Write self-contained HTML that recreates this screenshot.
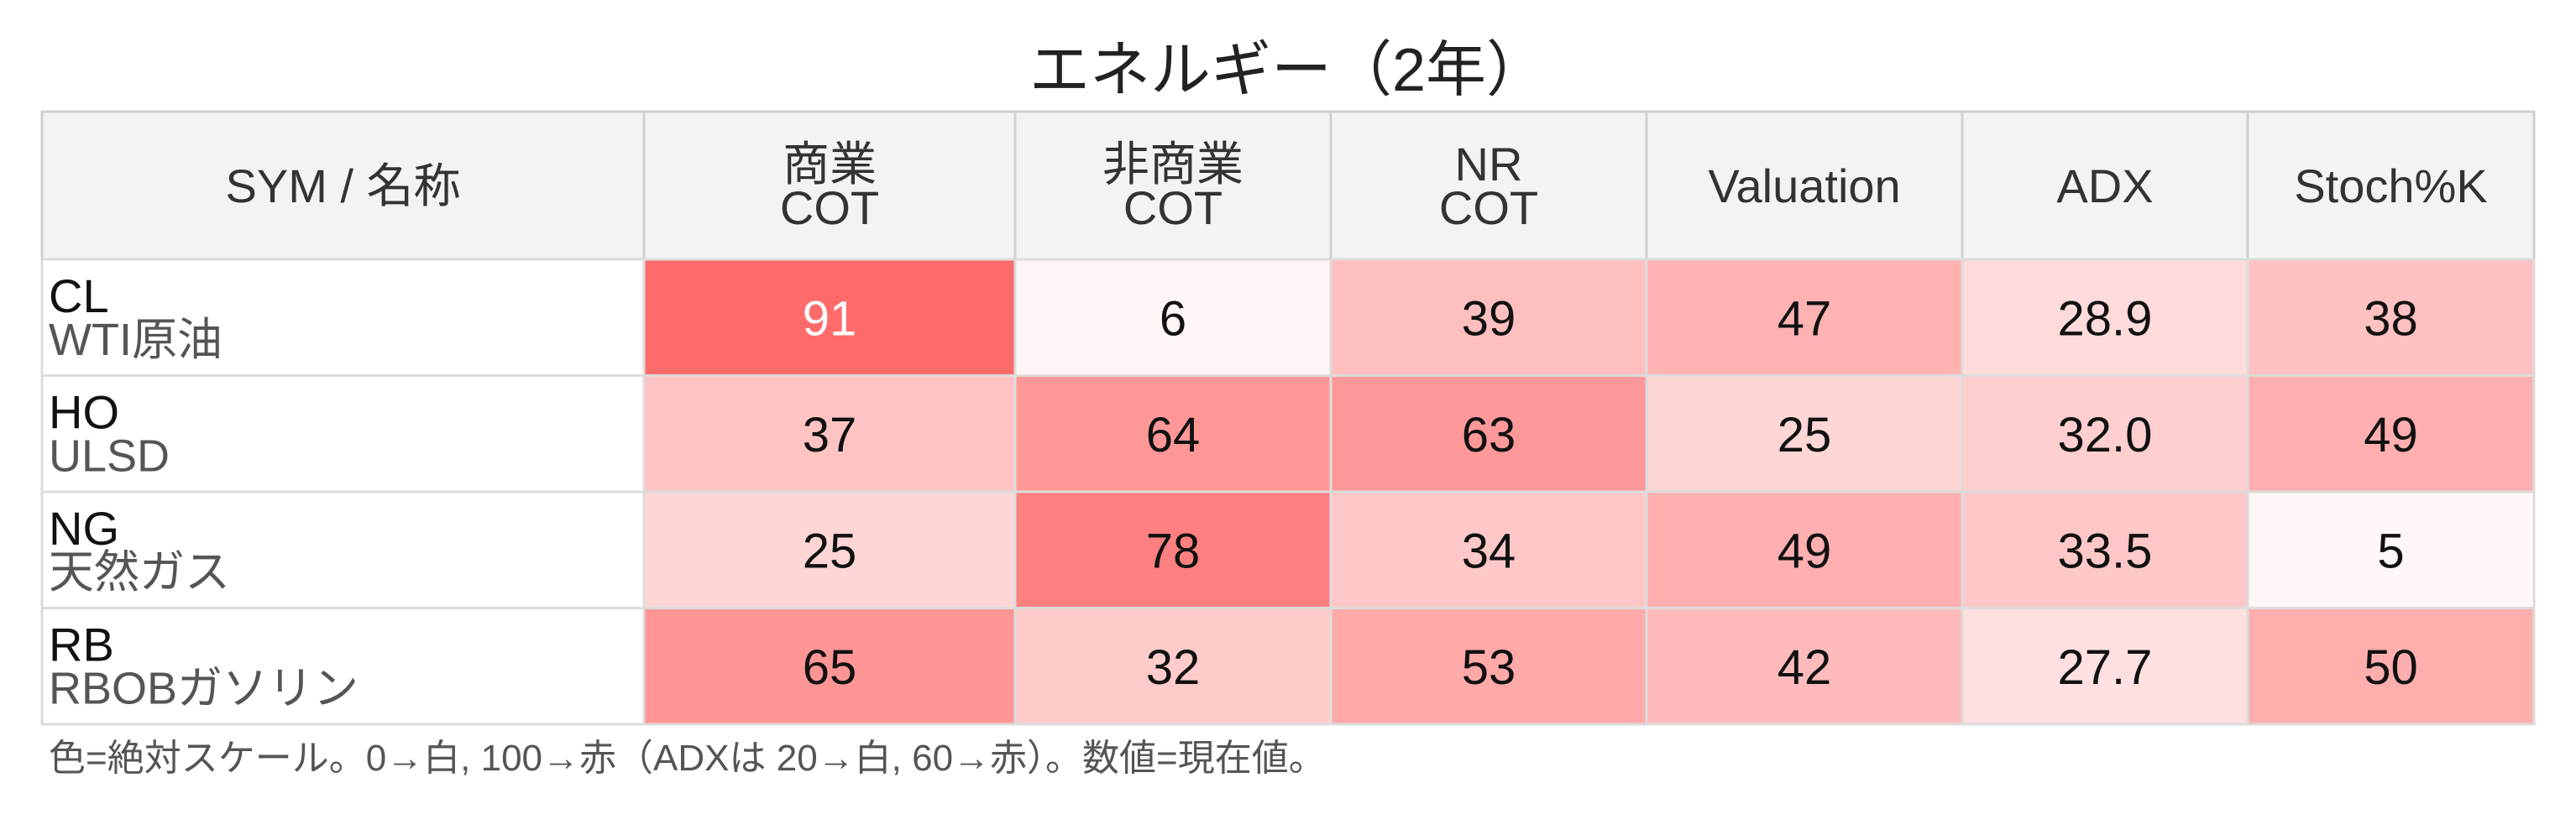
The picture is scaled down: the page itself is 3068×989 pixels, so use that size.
<!DOCTYPE html>
<html><head><meta charset="utf-8">
<style>
html,body{margin:0;padding:0;background:#fff;}
svg{display:block;}
text{font-family:"Liberation Sans","Noto Sans CJK JP",sans-serif;}
</style></head>
<body>
<svg id="chart" width="3068" height="989" viewBox="0 0 3068 989" xmlns="http://www.w3.org/2000/svg">
<text x="1534" y="108" text-anchor="middle" font-size="72" fill="#222">エネルギー（2年）</text>
<g id="tbl"></g>
<text x="58" y="918" font-size="44" fill="#555">色=絶対スケール。0→白, 100→赤（ADXは 20→白, 60→赤）。数値=現在値。</text>
</svg>
<script>
const headers = [["SYM / 名称"], ["商業","COT"], ["非商業","COT"], ["NR","COT"], ["Valuation"], ["ADX"], ["Stoch%K"]];
const symbols = ["CL","HO","NG","RB"];
const names = ["WTI原油","ULSD","天然ガス","RBOBガソリン"];
const commCot = [91, 37, 25, 65];
const nonCommCot = [6, 64, 78, 32];
const nrCot = [39, 63, 34, 53];
const valuation = [47, 25, 49, 42];
const adx = [28.9, 32.0, 33.5, 27.7];
const stochK = [38, 49, 5, 50];

const NS = "http://www.w3.org/2000/svg";
const g = document.getElementById('tbl');
const colX = [50, 767, 1209, 1585, 1961, 2337, 2677, 3018];
const headTop = 133, headBot = 309;
const rowH = (863 - 309) / symbols.length;
const series = [commCot, nonCommCot, nrCot, valuation, adx, stochK];
const fmt = [0,0,0,0,1,0];

function mk(tag, attrs, parent){ const e=document.createElementNS(NS,tag); for(const k in attrs) e.setAttribute(k, attrs[k]); (parent||g).appendChild(e); return e; }
function color(v, isAdx){
  let t = isAdx ? (v-20)/40 : v/100;
  t = Math.max(0, Math.min(1, t));
  const gb = Math.round(255 - 163*t);
  return `rgb(255,${gb},${gb})`;
}

// header
for(let c=0;c<7;c++){
  const r = mk('rect',{x:colX[c],y:headTop,width:colX[c+1]-colX[c],height:headBot-headTop,fill:'#f3f3f3',stroke:'#d0d0d0','stroke-width':3});
  
  
  const lines = headers[c];
  const cx = (colX[c]+colX[c+1])/2;
  const cy = (headTop+headBot)/2;
  lines.forEach((ln,i)=>{
    const y = cy + (i-(lines.length-1)/2)*52 + 20;
    const t = mk('text',{x:cx,y:y,'text-anchor':'middle','font-size':56,fill:'#333'});
    
    
    t.textContent = ln;
  });
}
// rows
for(let r=0;r<symbols.length;r++){
  const y0 = headBot + r*rowH;
  const lc = mk('rect',{x:colX[0],y:y0,width:colX[1]-colX[0],height:rowH,fill:'#fff',stroke:'#dcdcdc','stroke-width':3});
  
  
  const s = mk('text',{x:58,y:y0+63,'font-size':56,fill:'#111'});
  
  
  s.textContent = symbols[r];
  const n = mk('text',{x:58,y:y0+114,'font-size':54,fill:'#555'});
  
  
  n.textContent = names[r];
  for(let c=0;c<series.length;c++){
    const v = series[c][r];
    const x0 = colX[c+1], w = colX[c+2]-colX[c+1];
    const cell = mk('rect',{x:x0,y:y0,width:w,height:rowH,fill:color(v,c===4),stroke:'#dcdcdc','stroke-width':3});
    
    
    const tv = (c===4?(v-20)/40:v/100);
    const t = mk('text',{x:x0+w/2,y:y0+rowH/2+21,'text-anchor':'middle','font-size':58,fill: tv>0.85?'#fff':'#111'});
    
    
    t.textContent = v.toFixed(fmt[c]);
  }
}
</script>
</body></html>
